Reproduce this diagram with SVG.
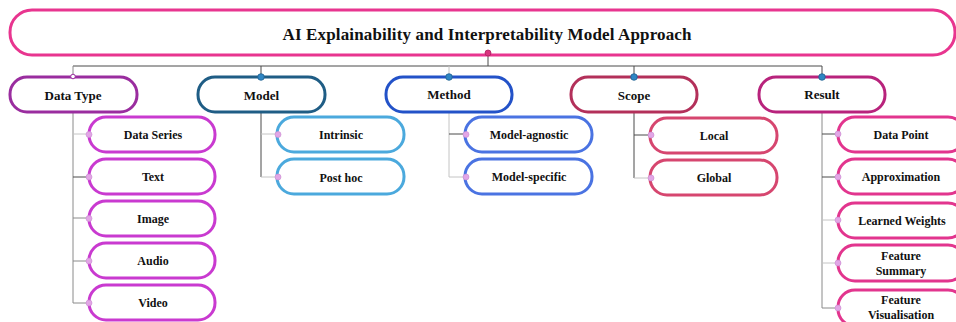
<svg xmlns="http://www.w3.org/2000/svg" width="956" height="322" viewBox="0 0 956 322">
  <style>
    .box { fill: #ffffff; stroke-width: 3; }
    .t { font-family: "Liberation Serif", "Times New Roman", serif; font-weight: bold; fill: #111111; text-anchor: middle; }
    .title { font-size: 17px; }
    .cat { font-size: 13px; }
    .sub { font-size: 12px; }
    .ln { fill: none; stroke-width: 1; }
    .dk { stroke: #4a4a4a; }
    .md { stroke: #8a8a8a; }
    .lt { stroke: #c4c4c4; }
    .pin { fill: #2f86c4; stroke: #1f5f8f; stroke-width: 0.8; }
    .cdot { fill: #e2a6e6; stroke: #c98bd0; stroke-width: 0.6; }
  </style>

  <!-- connectors -->
  <g id="connectors">
    <line class="ln dk" x1="488" y1="53" x2="488" y2="66"/>
    <line class="ln dk" x1="73" y1="66" x2="822" y2="66"/>
    <line class="ln md" x1="73" y1="66" x2="73" y2="77"/>
    <line class="ln dk" x1="261" y1="66" x2="261" y2="77"/>
    <line class="ln lt" x1="449" y1="66" x2="449" y2="77"/>
    <line class="ln dk" x1="634" y1="66" x2="634" y2="77"/>
    <line class="ln dk" x1="822" y1="66" x2="822" y2="77"/>

    <!-- Data Type branch -->
    <line class="ln md" x1="73" y1="112" x2="73" y2="303"/>
    <line class="ln lt" x1="73" y1="134" x2="89" y2="134"/>
    <line class="ln dk" x1="73" y1="177" x2="89" y2="177"/>
    <line class="ln md" x1="73" y1="218" x2="89" y2="218"/>
    <line class="ln md" x1="73" y1="261" x2="89" y2="261"/>
    <line class="ln md" x1="73" y1="303" x2="89" y2="303"/>

    <!-- Model branch -->
    <line class="ln dk" x1="261" y1="112" x2="261" y2="177"/>
    <line class="ln lt" x1="261" y1="134" x2="277" y2="134"/>
    <line class="ln lt" x1="261" y1="177" x2="277" y2="177"/>

    <!-- Method branch -->
    <line class="ln lt" x1="449" y1="112" x2="449" y2="177"/>
    <line class="ln dk" x1="449" y1="134" x2="464" y2="134"/>
    <line class="ln lt" x1="449" y1="177" x2="464" y2="177"/>

    <!-- Scope branch -->
    <line class="ln dk" x1="634" y1="112" x2="634" y2="178"/>
    <line class="ln dk" x1="634" y1="135" x2="650" y2="135"/>
    <line class="ln lt" x1="634" y1="178" x2="650" y2="178"/>

    <!-- Result branch -->
    <line class="ln md" x1="822" y1="112" x2="822" y2="308"/>
    <line class="ln dk" x1="822" y1="134" x2="837" y2="134"/>
    <line class="ln dk" x1="822" y1="177" x2="837" y2="177"/>
    <line class="ln lt" x1="822" y1="220" x2="837" y2="220"/>
    <line class="ln lt" x1="822" y1="263" x2="837" y2="263"/>
    <line class="ln md" x1="822" y1="308" x2="837" y2="308"/>
  </g>

  <!-- root -->
  <g id="root">
    <rect class="box" x="10" y="10" width="945" height="45" rx="22" stroke="#e8358f"/>
    <text class="t title" x="487" y="40" textLength="409" lengthAdjust="spacing">AI Explainability and Interpretability Model Approach</text>
    <circle cx="488" cy="53" r="3" fill="#d8337f" stroke="#b0205f" stroke-width="0.8"/>
  </g>

  <!-- categories -->
  <g id="data-type">
    <rect class="box" x="10" y="77" width="127" height="35" rx="17" stroke="#9a2d9f"/>
    <text class="t cat" x="73" y="99.5">Data Type</text>
    <circle cx="73" cy="76.5" r="2.3" fill="#ffffff" stroke="#9a2d9f" stroke-width="1"/>
  </g>
  <g id="model">
    <rect class="box" x="198" y="77" width="127" height="35" rx="17" stroke="#1f5d85"/>
    <text class="t cat" x="261.5" y="99.5">Model</text>
    <circle class="pin" cx="261" cy="77" r="3.3"/>
  </g>
  <g id="method">
    <rect class="box" x="386" y="77" width="126" height="35" rx="17" stroke="#2352c8"/>
    <text class="t cat" x="449" y="99">Method</text>
    <circle class="pin" cx="449" cy="77" r="3.3"/>
  </g>
  <g id="scope">
    <rect class="box" x="571" y="77" width="126" height="35" rx="17" stroke="#b3305a"/>
    <text class="t cat" x="634" y="99.5">Scope</text>
    <circle class="pin" cx="634" cy="77" r="3.3"/>
  </g>
  <g id="result">
    <rect class="box" x="759" y="77" width="126" height="35" rx="17" stroke="#b8237c"/>
    <text class="t cat" x="822" y="99">Result</text>
    <circle class="pin" cx="822" cy="77" r="3.3"/>
  </g>

  <!-- Data Type children -->
  <g id="data-series">
    <rect class="box" x="89" y="117" width="126" height="35" rx="17" stroke="#c93ad0"/>
    <text class="t sub" x="153" y="138.5">Data Series</text>
    <circle class="cdot" cx="89" cy="134.5" r="3"/>
  </g>
  <g id="text">
    <rect class="box" x="89" y="159" width="126" height="35" rx="17" stroke="#c93ad0"/>
    <text class="t sub" x="153" y="181">Text</text>
    <circle class="cdot" cx="89" cy="177" r="3"/>
  </g>
  <g id="image">
    <rect class="box" x="89" y="201" width="126" height="35" rx="17" stroke="#c93ad0"/>
    <text class="t sub" x="153" y="222.5">Image</text>
    <circle class="cdot" cx="89" cy="218.5" r="3"/>
  </g>
  <g id="audio">
    <rect class="box" x="89" y="243" width="126" height="35" rx="17" stroke="#c93ad0"/>
    <text class="t sub" x="153" y="264.5">Audio</text>
    <circle class="cdot" cx="89" cy="261" r="3"/>
  </g>
  <g id="video">
    <rect class="box" x="89" y="285" width="126" height="35" rx="17" stroke="#c93ad0"/>
    <text class="t sub" x="153" y="306.5">Video</text>
    <circle class="cdot" cx="89" cy="303" r="3"/>
  </g>

  <!-- Model children -->
  <g id="intrinsic">
    <rect class="box" x="277" y="117" width="127" height="35" rx="17" stroke="#4ba9dd"/>
    <text class="t sub" x="341" y="139">Intrinsic</text>
    <circle class="cdot" cx="278" cy="134.5" r="3"/>
  </g>
  <g id="post-hoc">
    <rect class="box" x="277" y="159" width="127" height="35" rx="17" stroke="#4ba9dd"/>
    <text class="t sub" x="341" y="181.5">Post hoc</text>
    <circle class="cdot" cx="278" cy="177" r="3"/>
  </g>

  <!-- Method children -->
  <g id="model-agnostic">
    <rect class="box" x="465" y="117" width="127" height="35" rx="17" stroke="#4a73e2"/>
    <text class="t sub" x="529" y="138.5">Model-agnostic</text>
    <circle class="cdot" cx="466" cy="134.5" r="3"/>
  </g>
  <g id="model-specific">
    <rect class="box" x="465" y="159" width="127" height="35" rx="17" stroke="#4a73e2"/>
    <text class="t sub" x="529" y="181">Model-specific</text>
    <circle class="cdot" cx="466" cy="177" r="3"/>
  </g>

  <!-- Scope children -->
  <g id="local">
    <rect class="box" x="650" y="118" width="127" height="35" rx="17" stroke="#d6466f"/>
    <text class="t sub" x="714" y="139.5">Local</text>
    <circle class="cdot" cx="651" cy="135" r="3"/>
  </g>
  <g id="global">
    <rect class="box" x="650" y="160" width="127" height="35" rx="17" stroke="#d6466f"/>
    <text class="t sub" x="714" y="182">Global</text>
    <circle class="cdot" cx="651" cy="178" r="3"/>
  </g>

  <!-- Result children -->
  <g id="data-point">
    <rect class="box" x="838" y="117" width="127" height="35" rx="17" stroke="#e2358e"/>
    <text class="t sub" x="901" y="139">Data Point</text>
    <circle class="cdot" cx="838" cy="134" r="3"/>
  </g>
  <g id="approximation">
    <rect class="box" x="838" y="159" width="127" height="35" rx="17" stroke="#e2358e"/>
    <text class="t sub" x="901" y="181">Approximation</text>
    <circle class="cdot" cx="838" cy="177" r="3"/>
  </g>
  <g id="learned-weights">
    <rect class="box" x="838" y="203" width="127" height="35" rx="17" stroke="#e2358e"/>
    <text class="t sub" x="902" y="225">Learned Weights</text>
    <circle class="cdot" cx="838" cy="220" r="3"/>
  </g>
  <g id="feature-summary">
    <rect class="box" x="838" y="245" width="127" height="36" rx="17" stroke="#e2358e"/>
    <text class="t sub" x="901" y="260">Feature</text>
    <text class="t sub" x="901" y="275">Summary</text>
    <circle class="cdot" cx="838" cy="263" r="3"/>
  </g>
  <g id="feature-visualisation">
    <rect class="box" x="838" y="290" width="127" height="36" rx="17" stroke="#e2358e"/>
    <text class="t sub" x="901" y="304">Feature</text>
    <text class="t sub" x="901" y="319">Visualisation</text>
    <circle class="cdot" cx="838" cy="308" r="3"/>
  </g>
</svg>
